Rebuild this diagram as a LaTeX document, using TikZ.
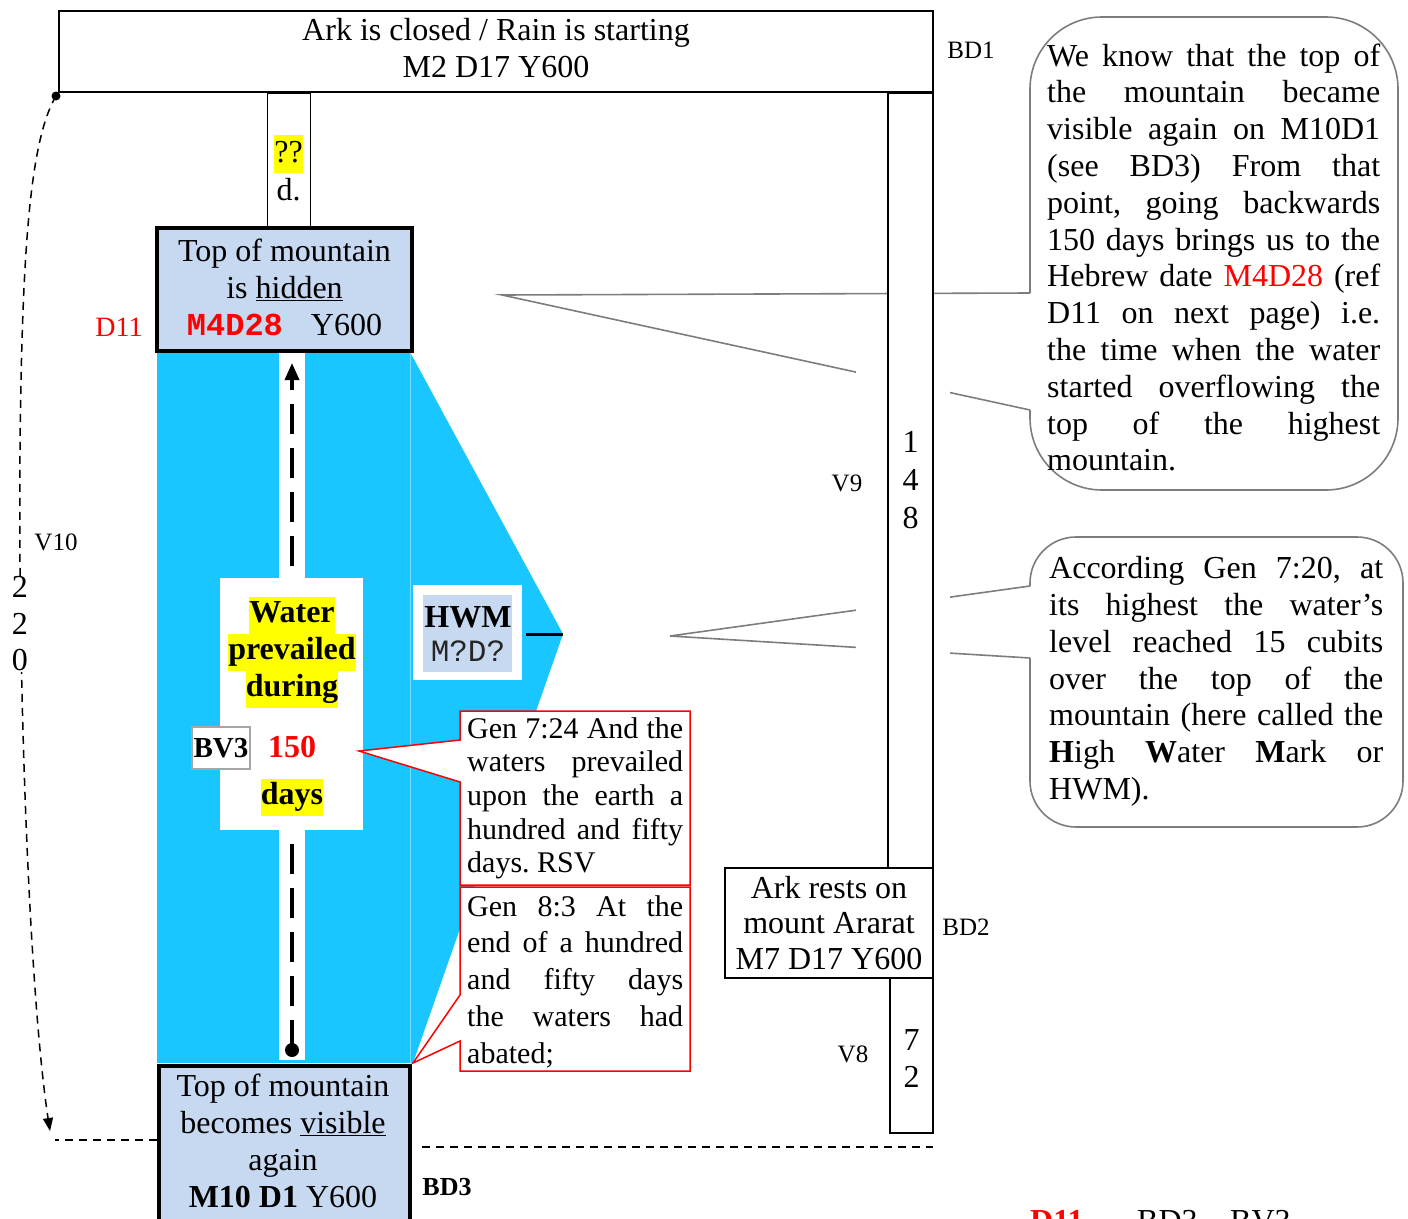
\documentclass[tikz,border=0pt]{standalone}
\usepackage{fontspec}
\setmainfont{Liberation Serif}
\setmonofont{Liberation Mono}
\usetikzlibrary{arrows.meta}
\definecolor{water}{RGB}{26,198,255}
\definecolor{paleblue}{RGB}{198,217,241}
\definecolor{callgray}{RGB}{125,125,125}
\definecolor{hlyellow}{RGB}{255,255,0}
\newcommand\fmain{\fontsize{32}{37}\selectfont}
\newcommand\fsmall{\fontsize{25}{30}\selectfont}
\newcommand\cfont{\fontsize{32}{36.8}\selectfont}
\newcommand\yhl[1]{{\setlength{\fboxsep}{0pt}\colorbox{hlyellow}{\strut #1}}}
\newcommand\jl[2]{\makebox[#1][s]{\spaceskip=0.25em plus 1fil\relax #2}\\}
\begin{document}
\frenchspacing
\begin{tikzpicture}[x=1pt,y=-1pt,
  txt/.style={inner sep=0pt, font=\fmain, align=center},
  lbl/.style={inner sep=0pt, font=\fsmall},
  box/.style={draw=black, line width=1.4pt},
  heavybox/.style={draw=black, line width=3.5pt, fill=paleblue},
  callout/.style={draw=callgray, line width=1.6pt},
  redcall/.style={draw=red, line width=1.5pt, fill=white},
  jtext/.style={anchor=north west, inner sep=0pt, align=left},
  dashline/.style={line width=1.5pt, dash pattern=on 8pt off 6pt},
]
\useasboundingbox (0,0) rectangle (1408,1218);

% water
\fill[water] (157,352) rectangle (410,1063);
\fill[water] (410,352) -- (563,634) -- (413,1063) -- (410,1063) -- cycle;
\draw[water!60!white, line width=1pt] (410,352) -- (410,1063);
\fill[white] (279,352) rectangle (305,1060);

% dashed arrow (behind the white text box)
\coordinate (arrowbot) at (292,1050);
\coordinate (arrowtop) at (292,363);
\draw[line width=3.5pt, dash pattern=on 30pt off 14pt, -{Triangle[length=17pt,width=14pt]}] (arrowbot) -- (arrowtop);
\fill (arrowbot) circle (7pt);

\fill[white] (220,578) rectangle (363,830);

% HWM
\fill[white] (413,585) rectangle (522,680);
\fill[paleblue] (423,595) rectangle (512,672);
\coordinate (hwmA) at (526,634);
\coordinate (hwmB) at (563,634);
\draw[line width=3pt] (hwmA) -- (hwmB);

% gray callouts
\draw[callout] (1030,293) -- (502,295) -- (1030,410);
\draw[callout, rounded corners=72pt] (1030,410) -- (1030,490) -- (1398,490) -- (1398,17) -- (1030,17) -- (1030,293);
\draw[callout] (1030,586) -- (670,636) -- (1030,658);
\draw[callout, rounded corners=46pt] (1030,658) -- (1030,827) -- (1403,827) -- (1403,537) -- (1030,537) -- (1030,586);
\fill[white] (856,302) rectangle (950,662);

% boxes
\node[box, minimum width=874pt, minimum height=81pt, inner sep=0pt] (bd1box) at (496,51.5) {};
\node[txt] (bd1text) at (496,48.5) {Ark is closed / Rain is starting\\M2 D17 Y600};
\node[box, minimum width=43pt, minimum height=135pt, anchor=north west, inner sep=0pt] (qbox) at (267,93) {};
\node[txt, font=\fontsize{32}{38}\selectfont] (qtext) at (288.5,168) {\yhl{??}\\d.};
\node[box, fill=white, minimum width=45pt, minimum height=775pt, inner sep=0pt, font=\fontsize{32}{38}\selectfont, align=center] (bar148) at (910.5,480.5) {1\\4\\8};
\draw[line width=3pt] (bar148.north west) -- (bar148.north east);
\node[box, fill=white, minimum width=208pt, minimum height=110pt, txt, font=\fontsize{32}{35.5}\selectfont] (bd2box) at (829,923) {Ark rests on\\mount Ararat\\M7 D17 Y600};
\node[box, minimum width=43pt, minimum height=155pt, inner sep=0pt] (bar72) at (911.5,1055.5) {};
\node[txt] (bar72text) at (911.5,1058.5) {7\\2};

\node[heavybox, minimum width=255pt, minimum height=123pt, inner sep=0pt] (d11box) at (284.5,289.5) {};
\node[txt] (d11text) at (284.5,287) {Top of mountain\\is \underline{hidden}\\{\color{red}\ttfamily\bfseries M4D28}\hspace{28pt}Y600};
\node[heavybox, minimum width=251pt, minimum height=180pt, anchor=north west, inner sep=0pt] (bd3box) at (157,1064) {};
\node[txt] (bd3text) at (283,1141) {Top of mountain\\becomes \underline{visible}\\again\\\textbf{M10 D1} Y600};

% red callouts
\draw[redcall] (460,711) -- (690,711) -- (690,885) -- (460,885) -- (460,782) -- (359,751) -- (460,740) -- cycle;
\draw[redcall] (460,887) -- (690,887) -- (690,1071) -- (460,1071) -- (460,1041) -- (413,1063) -- (460,995) -- cycle;
\node[jtext, text width=216pt, font=\fontsize{30}{33.7}\selectfont] (gen724) at (467,714.4) {\noindent\strut\spaceskip=0.25em\relax\xspaceskip=0.25em\relax\jl{216pt}{Gen 7:24 And the}\jl{216pt}{waters prevailed}\jl{216pt}{upon the earth a}\jl{216pt}{hundred and fifty}days. RSV};
\node[jtext, text width=216pt, font=\fontsize{30}{36.7}\selectfont] (gen83) at (467,890.3) {\noindent\strut\spaceskip=0.25em\relax\jl{216pt}{Gen 8:3 At the}\jl{216pt}{end of a hundred}\jl{216pt}{and fifty days}\jl{216pt}{the waters had}abated;};

% callout texts
\node[jtext, text width=333pt, font=\cfont] (c1text) at (1047,40.2) {\noindent\strut\spaceskip=0.25em\relax\jl{333pt}{We know that the top of}\jl{333pt}{the mountain became}\jl{333pt}{visible again on M10D1}\jl{333pt}{(see BD3) From that}\jl{333pt}{point, going backwards}\jl{333pt}{150 days brings us to the}\jl{333pt}{Hebrew date {\color{red}M4D28} (ref}\jl{333pt}{D11 on next page) i.e.}\jl{333pt}{the time when the water}\jl{333pt}{started overflowing the}\jl{333pt}{top of the highest}mountain.};
\node[jtext, text width=334pt, font=\cfont] (c2text) at (1049,552.7) {\noindent\strut\spaceskip=0.25em\relax\jl{334pt}{According Gen 7:20, at}\jl{334pt}{its highest the water’s}\jl{334pt}{level reached 15 cubits}\jl{334pt}{over the top of the}\jl{334pt}{mountain (here called the}\jl{334pt}{\textbf{H}igh \textbf{W}ater \textbf{M}ark or}HWM).};

% water texts
\node[txt, font=\fmain\bfseries] (wtext) at (292,652) {\yhl{Water}\\\yhl{prevailed}\\\yhl{during}};
\node[draw=gray!70, line width=1.5pt, fill=white, inner sep=0pt, minimum width=58pt, minimum height=42pt, font=\fontsize{29}{33}\selectfont\bfseries] (bv3) at (221,748) {BV3};
\node[inner sep=0pt, font=\fmain\bfseries, text=red] (n150) at (292,747) {150};
\node[inner sep=0pt, font=\fmain\bfseries] (ndays) at (292,797) {\yhl{days}};
\node[inner sep=0pt, font=\fmain\bfseries] (hwm) at (468,617) {HWM};
\node[inner sep=0pt, font=\fontsize{31}{35}\selectfont\ttfamily, text=black!85] (hwmd) at (468,651) {M?D?};

% left dashed curve
\coordinate (v10top) at (56,96);
\coordinate (v10bot) at (50,1131);
\fill (v10top) circle (4.5pt);
\draw[dashline, -{Triangle[length=13pt,width=10pt]}] (v10top) .. controls (30,140) and (22,250) .. (20,450) .. controls (18,700) and (30,1000) .. (v10bot);
\coordinate (bd3l) at (157,1140);
\coordinate (hend) at (55,1140);
\draw[dashline] (bd3l) -- (hend);
\coordinate (dA) at (422,1147);
\coordinate (dB) at (933,1147);
\draw[dashline, line width=1.3pt] (dA) -- (dB);

% labels
\node[lbl] (lbd1) at (971,50) {BD1};
\node[lbl] (lbd2) at (966,927) {BD2};
\node[lbl] (lv9) at (847,483) {V9};
\node[lbl] (lv8) at (853,1054) {V8};
\node[lbl] (lv10) at (56,542) {V10};
\node[txt, fill=white, inner sep=1pt, font=\fontsize{32}{36.5}\selectfont] (n220) at (20,624) {2\\2\\0};
\node[inner sep=0pt, font=\fontsize{28}{32}\selectfont, text=red] (ld11) at (119,327) {D11};
\node[inner sep=0pt, font=\fontsize{26}{30}\selectfont\bfseries] (lbd3) at (447,1187) {BD3};

% cut-off footer
\node[anchor=base west, inner sep=0pt, font=\fmain\bfseries, text=red] (fd11) at (1030,1231) {D11};
\node[anchor=base west, inner sep=0pt, font=\fmain] (fbd3) at (1137,1231) {BD3};
\node[anchor=base west, inner sep=0pt, font=\fmain] (fbv3) at (1230,1231) {BV3};
\end{tikzpicture}
\end{document}
